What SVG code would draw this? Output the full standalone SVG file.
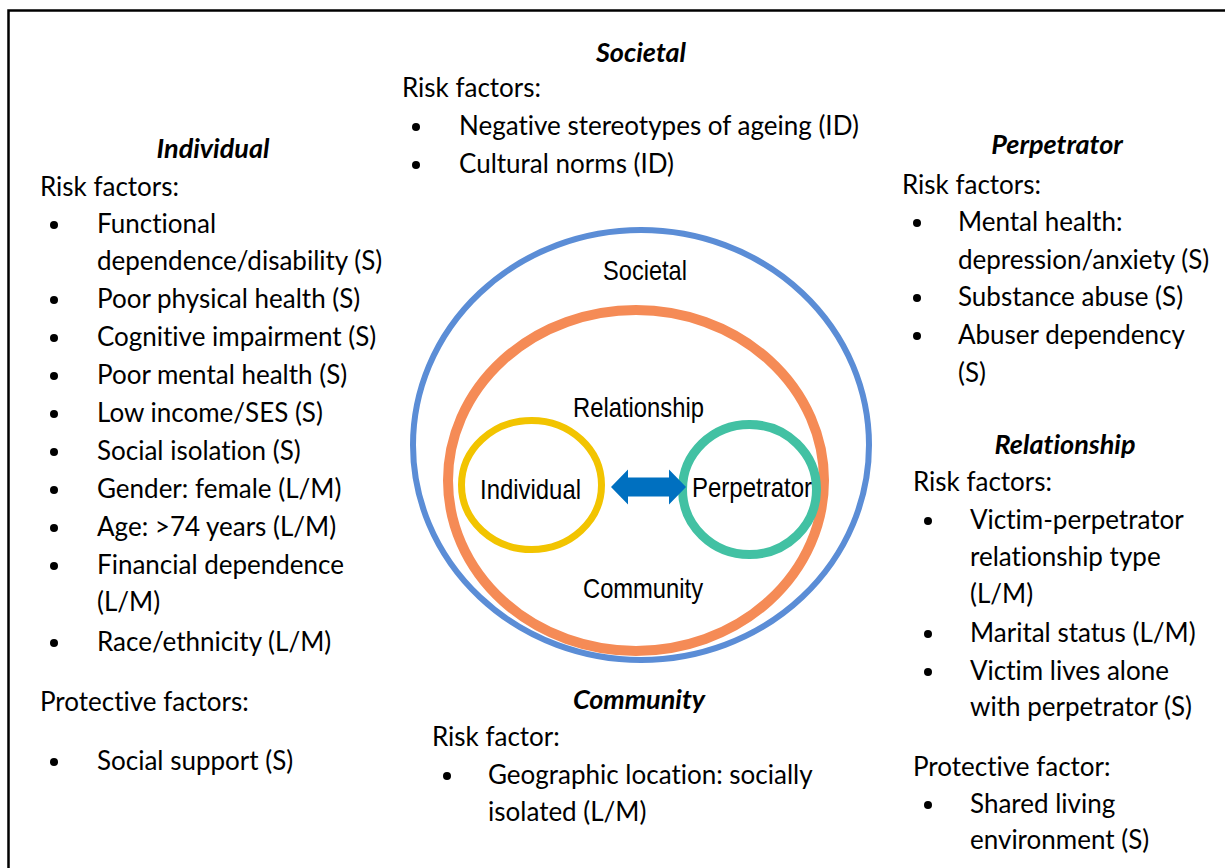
<svg xmlns="http://www.w3.org/2000/svg" width="1225" height="868" viewBox="0 0 1225 868">
<style>
.t{font-family:Lato,"Liberation Sans",sans-serif;font-size:26px;fill:#000;font-variant-ligatures:none;font-feature-settings:"liga" 0,"clig" 0,"dlig" 0}
.h{font-family:Lato,"Liberation Sans",sans-serif;font-size:27px;font-weight:bold;font-style:italic;fill:#000;text-anchor:middle;font-variant-ligatures:none;font-feature-settings:"liga" 0,"clig" 0,"dlig" 0}
.c{font-family:"Liberation Sans",Arial,sans-serif;font-size:28px;fill:#000;text-anchor:middle}
.ring{fill:none}
</style>
<rect x="0" y="0" width="1225" height="868" fill="#fff"/>
<rect x="8.5" y="10.5" width="1240" height="900" fill="none" stroke="#000" stroke-width="2.5"/>

<g id="societal-ring"><ellipse class="ring" cx="641" cy="445" rx="228" ry="215" stroke="#5B8DD6" stroke-width="6"/>
<text class="c" x="645" y="280" textLength="84" lengthAdjust="spacingAndGlyphs">Societal</text></g>
<g id="relationship-ring"><ellipse class="ring" cx="636" cy="480.5" rx="188" ry="170.5" stroke="#F58B56" stroke-width="10"/>
<text class="c" x="638.5" y="417" textLength="131" lengthAdjust="spacingAndGlyphs">Relationship</text>
<text class="c" x="643" y="598" textLength="120" lengthAdjust="spacingAndGlyphs">Community</text></g>
<g id="individual-ring"><ellipse class="ring" cx="531.5" cy="485" rx="70" ry="64.5" stroke="#F2C400" stroke-width="7"/>
<text class="c" x="530.5" y="499" textLength="101" lengthAdjust="spacingAndGlyphs">Individual</text></g>
<g id="perpetrator-ring"><ellipse class="ring" cx="749.5" cy="489.5" rx="67" ry="65" stroke="#42C1A3" stroke-width="9"/>
<text class="c" x="752" y="497" textLength="120" lengthAdjust="spacingAndGlyphs">Perpetrator</text></g>

<g id="connectors">
<polygon points="611,487 628,469.5 628,477.5 669,477.5 669,469.5 686,487 669,504.5 669,496.5 628,496.5 628,504.5" fill="#0070C0"/>
</g>

<g id="societal-box">
<text class="h" x="641" y="62">Societal</text>
<text class="t" x="402" y="97">Risk factors:</text>
<circle cx="416" cy="127" r="4"/><text class="t" x="459" y="135">Negative stereotypes of ageing (ID)</text>
<circle cx="416" cy="165" r="4"/><text class="t" x="459" y="173">Cultural norms (ID)</text>
</g>

<g id="individual-box">
<text class="h" x="213" y="158">Individual</text>
<text class="t" x="40" y="196">Risk factors:</text>
<circle cx="54" cy="225" r="4"/><text class="t" x="97" y="233">Functional</text>
<text class="t" x="97" y="270">dependence/disability (S)</text>
<circle cx="54" cy="300" r="4"/><text class="t" x="97" y="308">Poor physical health (S)</text>
<circle cx="54" cy="338" r="4"/><text class="t" x="97" y="346">Cognitive impairment (S)</text>
<circle cx="54" cy="376" r="4"/><text class="t" x="97" y="384">Poor mental health (S)</text>
<circle cx="54" cy="414" r="4"/><text class="t" x="97" y="422">Low income/SES (S)</text>
<circle cx="54" cy="452" r="4"/><text class="t" x="97" y="460">Social isolation (S)</text>
<circle cx="54" cy="490" r="4"/><text class="t" x="97" y="498">Gender: female (L/M)</text>
<circle cx="54" cy="528" r="4"/><text class="t" x="97" y="536">Age: &gt;74 years (L/M)</text>
<circle cx="54" cy="566" r="4"/><text class="t" x="97" y="574">Financial dependence</text>
<text class="t" x="97" y="611">(L/M)</text>
<circle cx="54" cy="643" r="4"/><text class="t" x="97" y="651">Race/ethnicity (L/M)</text>
<text class="t" x="40" y="711">Protective factors:</text>
<circle cx="54" cy="762" r="4"/><text class="t" x="97" y="770">Social support (S)</text>
</g>

<g id="perpetrator-box">
<text class="h" x="1057" y="154">Perpetrator</text>
<text class="t" x="902" y="194">Risk factors:</text>
<circle cx="917" cy="223" r="4"/><text class="t" x="958" y="231">Mental health:</text>
<text class="t" x="958" y="269">depression/anxiety (S)</text>
<circle cx="917" cy="298" r="4"/><text class="t" x="958" y="306">Substance abuse (S)</text>
<circle cx="917" cy="336" r="4"/><text class="t" x="958" y="344">Abuser dependency</text>
<text class="t" x="958" y="382">(S)</text>
</g>

<g id="relationship-box">
<text class="h" x="1065" y="454">Relationship</text>
<text class="t" x="913" y="491">Risk factors:</text>
<circle cx="928" cy="521" r="4"/><text class="t" x="970" y="529">Victim-perpetrator</text>
<text class="t" x="970" y="566">relationship type</text>
<text class="t" x="970" y="603">(L/M)</text>
<circle cx="928" cy="634" r="4"/><text class="t" x="970" y="642">Marital status (L/M)</text>
<circle cx="928" cy="672" r="4"/><text class="t" x="970" y="680">Victim lives alone</text>
<text class="t" x="970" y="716">with perpetrator (S)</text>
<text class="t" x="913" y="776">Protective factor:</text>
<circle cx="928" cy="805" r="4"/><text class="t" x="970" y="813">Shared living</text>
<text class="t" x="970" y="849">environment (S)</text>
</g>

<g id="community-box">
<text class="h" x="639" y="709">Community</text>
<text class="t" x="432" y="746">Risk factor:</text>
<circle cx="447" cy="776" r="4"/><text class="t" x="488" y="784">Geographic location: socially</text>
<text class="t" x="488" y="821">isolated (L/M)</text>
</g>
</svg>
